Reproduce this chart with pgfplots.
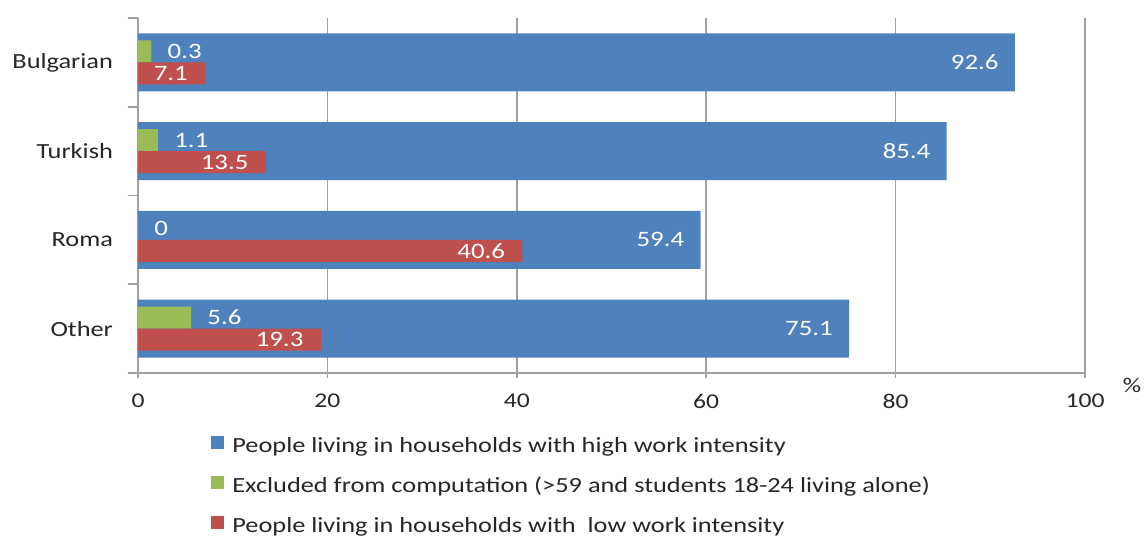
\documentclass[border=0pt]{standalone}
\usepackage{fontspec}
\setmainfont[FakeStretch=1.22]{Carlito}
\usepackage{pgfplots}
\pgfplotsset{compat=1.18}
\definecolor{cblue}{HTML}{4F81BD}
\definecolor{cred}{HTML}{C0504D}
\definecolor{cgreen}{HTML}{9BBB59}
\definecolor{cgrid}{HTML}{A0A0A0}
\definecolor{ctext}{HTML}{262626}
\begin{document}
\begin{tikzpicture}
\useasboundingbox (-69pt,-81.5pt) rectangle (504pt,186.5pt);
\begin{axis}[
  scale only axis, width=473.5pt, height=177.5pt,
  xmin=0, xmax=100, ymin=-0.5, ymax=3.5,
  enlargelimits=false,
  clip=false,
  xbar,
  /pgf/number format/assume math mode=true,
  axis x line*=bottom, axis y line*=left,
  axis line style={cgrid, -, line width=0.8pt},
  tick align=outside,
  major tick length=5pt,
  tick style={cgrid, line width=0.8pt},
  xtick=\empty,
  extra x ticks={0,20,40,60,80,100},
  extra x tick style={major tick length=2.5pt, grid=major},
  grid style={cgrid, line width=0.8pt},
  ytick={-0.5,0.5,1.5,2.5,3.5},
  yticklabels={{},Other,Roma,Turkish,Bulgarian},
  xticklabel style={font=\fontsize{10.5}{12}\selectfont, text=ctext, yshift=-4.5pt},
  yticklabel style={font=\fontsize{10.8}{13}\selectfont, text=ctext, xshift=-4pt, yshift=-22.19pt},
  legend style={at={(0.077,-0.175)}, anchor=north west, draw=none, fill=none,
    inner sep=0pt, row sep=9pt,
    font=\fontsize{10.8}{12}\selectfont, text=ctext,
    nodes={inner sep=0pt, text height=7.5pt, text depth=2.5pt, inner xsep=4pt}},
  legend cell align=left,
  legend image code/.code={\fill[#1, draw=none] (0pt,-0.5pt) rectangle (6.5pt,6pt);},
]
\addplot[fill=cblue, draw=none, bar width=29pt, bar shift=0pt,
  nodes near coords,
  every node near coord/.append style={anchor=east, xshift=-8pt, inner sep=0pt, text=white, font=\fontsize{11}{13}\selectfont}]
  coordinates {(75.1,0) (59.4,1) (85.4,2) (92.6,3)};
\addlegendentry{People living in households with high work intensity}
\addplot[fill=cgreen, draw=none, bar width=11pt, bar shift=5.5pt,
  point meta=explicit symbolic,
  nodes near coords,
  every node near coord/.append style={anchor=west, xshift=8pt, inner sep=0pt, text=white, font=\fontsize{11}{13}\selectfont}]
  coordinates {(5.6,0) [5.6] (0,1) [0] (2.1,2) [1.1] (1.4,3) [0.3]};
\addlegendentry{Excluded from computation (>59 and students 18-24 living alone)}
\addplot[fill=cred, draw=none, bar width=11pt, bar shift=-5.5pt,
  nodes near coords,
  every node near coord/.append style={anchor=east, xshift=-8.5pt, inner sep=0pt, text=white, font=\fontsize{11}{13}\selectfont}]
  coordinates {(19.3,0) (40.6,1) (13.5,2) (7.1,3)};
\addlegendentry{People living in households with\ \ low work intensity}
\node[font=\fontsize{10.5}{12}\selectfont, text=ctext] at (rel axis cs:1,0) [xshift=23.5pt, yshift=-6pt] {\%};
\end{axis}
\end{tikzpicture}
\end{document}
